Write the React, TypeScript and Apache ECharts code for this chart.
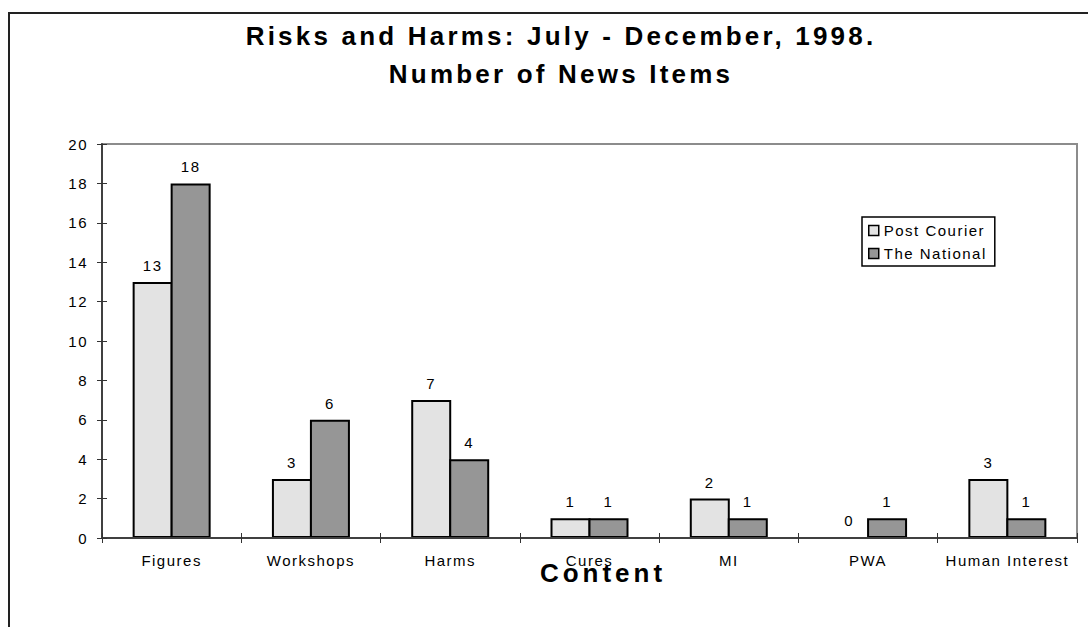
import React, { useEffect, useRef } from "react";
import * as echarts from "echarts";

const categories = ["Figures", "Workshops", "Harms", "Cures", "MI", "PWA", "Human Interest"];
const postCourier = [13, 3, 7, 1, 2, 0, 3];
const theNational = [18, 6, 4, 1, 1, 1, 1];
const seriesNames = ["Post Courier", "The National"];
const titleText = "Risks and Harms: July - December, 1998.\nNumber of News Items";
const xAxisName = "Content";
const yMin = 0;
const yMax = 20;
const yInterval = 2;

const FONT = "Arial, 'Liberation Sans', sans-serif";

const applySpacing = (root: HTMLElement | null) => {
  if (!root) return;
  root.querySelectorAll("svg text").forEach((node) => {
    const t = node as SVGTextElement;
    const txt = t.textContent || "";
    const fs = parseFloat(getComputedStyle(t).fontSize) || 12;
    let ls = 1.5;
    if (txt === xAxisName) ls = 4;
    else if (fs >= 20) ls = 3.2;
    t.setAttribute("letter-spacing", String(ls));
  });
};

export default function App() {
  const ref = useRef<HTMLDivElement>(null);
  useEffect(() => {
    if (!ref.current) return;
    const chart = echarts.init(ref.current, undefined, { renderer: "svg" });
    const gridBox = { left: 102, right: 11, top: 144, bottom: 89 };
    chart.setOption({
      animation: false,
      backgroundColor: "#ffffff",
      textStyle: { fontFamily: FONT },
      title: {
        text: titleText,
        left: 561,
        top: 17,
        padding: 0,
        textAlign: "center",
        textStyle: { fontSize: 26, fontWeight: "bold", color: "#000", lineHeight: 38, fontFamily: FONT },
      },
      graphic: [
        {
          type: "rect",
          shape: { x: 9, y: 13, width: 1100, height: 700 },
          style: { fill: "none", stroke: "#222", lineWidth: 2 },
          silent: true,
          z: -1,
        },
      ],
      legend: {
        data: seriesNames,
        orient: "vertical",
        left: 862,
        top: 217,
        padding: [6, 26, 5, 6],
        backgroundColor: "#fff",
        borderColor: "#000",
        borderWidth: 1.5,
        borderRadius: 0,
        itemWidth: 10,
        itemHeight: 10,
        itemGap: 8,
        itemStyle: { borderColor: "#000", borderWidth: 1.5 },
        icon: "rect",
        textStyle: { fontSize: 15, color: "#000", lineHeight: 15, fontFamily: FONT },
      },
      grid: [
        { ...gridBox, show: true, borderColor: "#8c8c8c", borderWidth: 2, containLabel: false },
        { ...gridBox, show: false, containLabel: false },
      ],
      xAxis: [
        {
          type: "category",
          gridIndex: 0,
          data: categories,
          axisLine: { lineStyle: { color: "#404040", width: 2 } },
          axisTick: { show: true, inside: false, length: 5, lineStyle: { color: "#333", width: 1 } },
          axisLabel: { color: "#000", fontSize: 15, margin: 15, interval: 0, fontFamily: FONT },
          name: xAxisName,
          nameLocation: "middle",
          nameGap: 22,
          nameMoveOverlap: false,
          nameTextStyle: { fontSize: 26, fontWeight: "bold", color: "#000", padding: [0, 0, 0, 27], fontFamily: FONT },
          z: 5,
        },
        {
          type: "category",
          gridIndex: 1,
          data: categories,
          axisLine: { show: false },
          axisTick: { show: true, inside: true, length: 5, lineStyle: { color: "#333", width: 1 } },
          axisLabel: { show: false },
          z: 5,
        },
      ],
      yAxis: [
        {
          type: "value",
          gridIndex: 0,
          min: yMin,
          max: yMax,
          interval: yInterval,
          axisLine: { show: true, lineStyle: { color: "#404040", width: 2 } },
          axisTick: { show: true, inside: false, length: 5, lineStyle: { color: "#333", width: 1 } },
          axisLabel: { color: "#000", fontSize: 15, margin: 14, fontFamily: FONT },
          splitLine: { show: false },
          z: 5,
        },
        {
          type: "value",
          gridIndex: 1,
          min: yMin,
          max: yMax,
          interval: yInterval,
          axisLine: { show: false },
          axisTick: { show: true, inside: true, length: 5, lineStyle: { color: "#333", width: 1 } },
          axisLabel: { show: false },
          splitLine: { show: false },
          z: 5,
        },
      ],
      series: [
        {
          name: seriesNames[0],
          type: "bar",
          xAxisIndex: 0,
          yAxisIndex: 0,
          data: postCourier,
          barWidth: 40,
          barGap: "-5%",
          itemStyle: { color: "#e3e3e3", borderColor: "#000", borderWidth: 2 },
          label: { show: true, position: "top", distance: 9, color: "#000", fontSize: 15, fontFamily: FONT },
        },
        {
          name: seriesNames[1],
          type: "bar",
          xAxisIndex: 0,
          yAxisIndex: 0,
          data: theNational,
          barWidth: 40,
          barGap: "-5%",
          itemStyle: { color: "#969696", borderColor: "#000", borderWidth: 2 },
          label: { show: true, position: "top", distance: 9, color: "#000", fontSize: 15, fontFamily: FONT },
        },
      ],
    });
    const root = ref.current;
    applySpacing(root);
    const onFinished = () => applySpacing(root);
    chart.on("finished", onFinished);
    return () => {
      chart.off("finished", onFinished);
      chart.dispose();
    };
  }, []);
  return (
    <div
      ref={ref}
      style={{ position: "absolute", left: 0, top: 0, width: 1088, height: 627 }}
    />
  );
}
